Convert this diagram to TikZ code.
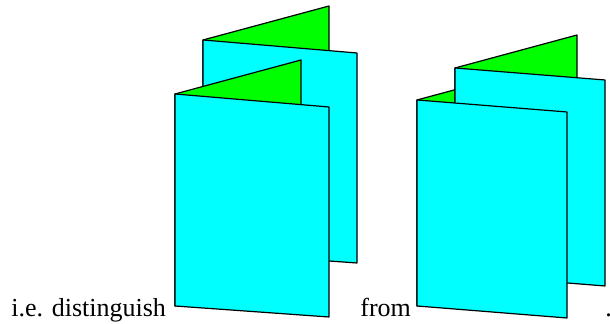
\documentclass[tikz,border=0pt]{standalone}
\usepackage{fontspec}
\setmainfont{Liberation Serif}
\usepackage{tikz}
\usetikzlibrary{positioning,calc}
\definecolor{pagecyan}{RGB}{0,255,255}
\definecolor{leafgreen}{RGB}{0,255,0}

\begin{document}
\begin{tikzpicture}[x=0.5pt,y=0.5pt,
  leaf/.style={draw,fill=leafgreen,line width=0.6pt,line join=round},
  page/.style={draw,fill=pagecyan,line width=0.6pt,line join=round},
  txt/.style={anchor=base west,inner sep=0pt,font=\fontsize{13}{15}\selectfont}]
\useasboundingbox (0,0) rectangle (610,324);
% left booklet: back card first, then front card
\foreach \dx/\dy in {28/54,0/0}
{
\draw[leaf,shift={(\dx,\dy)}] (175,230) -- (301,264) -- (301,53) -- (175,18) -- cycle;
\draw[page,shift={(\dx,\dy)}] (175,230) -- (329,217) -- (329,7) -- (175,18) -- cycle;
}
% right booklet: both leaves behind the back page
\draw[leaf] (417,224) -- (539,257) -- (539,51) -- (417,18) -- cycle;
\draw[leaf,shift={(38,32)}] (417,224) -- (539,257) -- (539,51) -- (417,18) -- cycle;
\foreach \dx/\dy in {38/32,0/0}
\draw[page,shift={(\dx,\dy)}] (417,224) -- (567,212) -- (567,6) -- (417,18) -- cycle;
% text
\node[txt] (lhs) at (11,7) {i.e. distinguish};
\node[txt] (from) at (360,7) {from};
\node[txt] (stop) at (605,7) {.};
\end{tikzpicture}
\end{document}
